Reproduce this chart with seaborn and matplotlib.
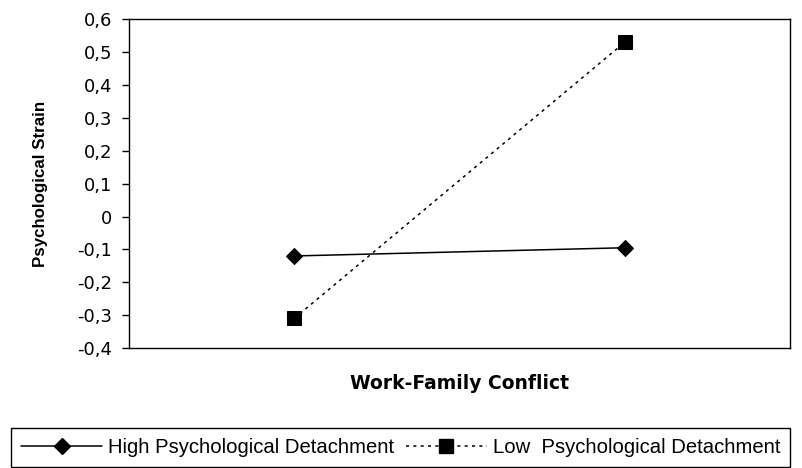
import pandas as pd
import numpy as np
import seaborn as sns
import matplotlib.pyplot as plt
from matplotlib.ticker import FuncFormatter, MultipleLocator
from matplotlib.lines import Line2D

# Data
conflict_levels = ["Low", "High"]
high_detachment = [-0.12, -0.095]
low_detachment = [-0.31, 0.53]
group_names = ["High Psychological Detachment", "Low  Psychological Detachment"]

df = pd.DataFrame({
    "Conflict": conflict_levels * 2,
    "Strain": high_detachment + low_detachment,
    "Group": [group_names[0]] * 2 + [group_names[1]] * 2,
})

sns.set_style("white")
plt.rcParams["font.family"] = ["Liberation Sans", "DejaVu Sans"]
plt.rcParams.update({"text.color": "black", "axes.labelcolor": "black",
                     "xtick.color": "black", "ytick.color": "black"})

dots = (0, (2, 2.8))

fig = plt.figure(figsize=(8.02, 4.68), dpi=100)
ax = fig.add_axes([0.1608, 0.2564, 0.9850 - 0.1608, 0.9588 - 0.2564])

high = df[df["Group"] == group_names[0]]
low = df[df["Group"] == group_names[1]]

sns.lineplot(data=high, x="Conflict", y="Strain", ax=ax, color="black", lw=1.1,
             marker="D", markersize=8, markeredgecolor="black", sort=False, legend=False)
sns.lineplot(data=low, x="Conflict", y="Strain", ax=ax, color="black", lw=1.1,
             linestyle=dots, marker="s", markersize=10,
             markeredgecolor="black", sort=False, legend=False)

ax.set_xlim(-0.5, 1.5)
ax.set_ylim(-0.4, 0.6)
ax.yaxis.set_major_locator(MultipleLocator(0.1))
ax.yaxis.set_major_formatter(FuncFormatter(
    lambda v, p: "0" if abs(v) < 1e-9 else f"{v:.1f}".replace(".", ",")))
ax.set_xticks([])
ax.tick_params(axis="y", left=True, length=5, width=1, color="black",
               labelcolor="black", pad=7)
for lbl in ax.get_yticklabels():
    lbl.set_family("DejaVu Sans")
    lbl.set_fontsize(13)

for s in ax.spines.values():
    s.set_color("black")
    s.set_linewidth(1)

ax.set_xlabel("Work-Family Conflict", fontsize=13.5, fontweight="bold",
              family="DejaVu Sans", color="black")
ax.xaxis.set_label_coords(0.5, -0.079)
ax.set_ylabel("Psychological Strain", fontsize=12.2, fontweight="bold", color="black")
ax.yaxis.set_label_coords(-0.122, 0.5)

handles = [
    Line2D([], [], color="black", lw=1.1, marker="D", markersize=8),
    Line2D([], [], color="black", lw=1.1, linestyle=dots, marker="s", markersize=10),
]
leg = fig.legend(handles, group_names,
                 loc="upper left", bbox_to_anchor=(11 / 802, 1 - 427.5 / 468), ncol=2,
                 frameon=True, fancybox=False, edgecolor="black", framealpha=1,
                 handlelength=4.0, handletextpad=0.3, columnspacing=0.55,
                 borderpad=0.5, borderaxespad=0, prop={"size": 14.6})
leg.get_frame().set_linewidth(1)
for t in leg.get_texts():
    t.set_color("black")

fig.savefig("out.png", dpi=100)
